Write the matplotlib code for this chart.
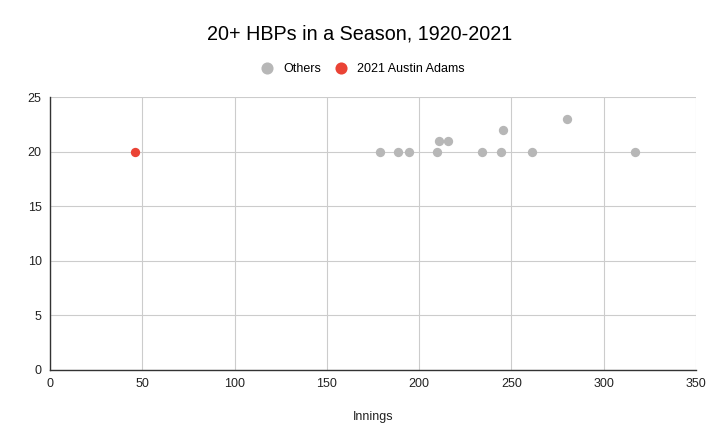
import matplotlib
matplotlib.use("Agg")
import matplotlib.pyplot as plt

plt.rcParams['font.family'] = ['Liberation Sans', 'DejaVu Sans']

others_innings = [178.8, 188.4, 194.7, 209.7, 210.9, 215.8, 234.2, 244.2, 245.4, 261.1, 279.9, 316.8]
others_hbp = [20, 20, 20, 20, 21, 21, 20, 20, 22, 20, 23, 20]
adams_innings = [46.1]
adams_hbp = [20]
x_ticks = [0, 50, 100, 150, 200, 250, 300, 350]
y_ticks = [0, 5, 10, 15, 20, 25]

fig = plt.figure(figsize=(7.19, 4.45), dpi=100)
ax = fig.add_axes([50/719, 75/445, 646/719, 273/445])

ax.scatter(others_innings, others_hbp, s=45, color='#b7b7b7', label='Others', zorder=3, linewidths=0)
ax.scatter(adams_innings, adams_hbp, s=45, color='#ea4335', label='2021 Austin Adams', zorder=3, linewidths=0)

ax.set_xlim(0, 350)
ax.set_ylim(0, 25)
ax.set_xticks(x_ticks)
ax.set_yticks(y_ticks)
ax.grid(True, color='#cccccc', linewidth=0.8, zorder=0)
ax.set_axisbelow(True)
for side in ['top', 'right']:
    ax.spines[side].set_visible(False)
for side in ['left', 'bottom']:
    ax.spines[side].set_color('#333333')
    ax.spines[side].set_linewidth(1.0)
ax.tick_params(length=0, labelsize=9, colors='#222222', pad=6)
ax.set_xlabel('Innings', fontsize=9, color='#222222', labelpad=15)

fig.text(0.5, 1 - 34/445, '20+ HBPs in a Season, 1920-2021', ha='center', va='center', fontsize=14.2, color='#000000')
fig.legend(loc='center', bbox_to_anchor=(0.5, 1 - 68.5/445), ncol=2, frameon=False, fontsize=9,
           handletextpad=0.3, columnspacing=0.6, markerscale=1.3)

fig.savefig('out.png', dpi=100)
